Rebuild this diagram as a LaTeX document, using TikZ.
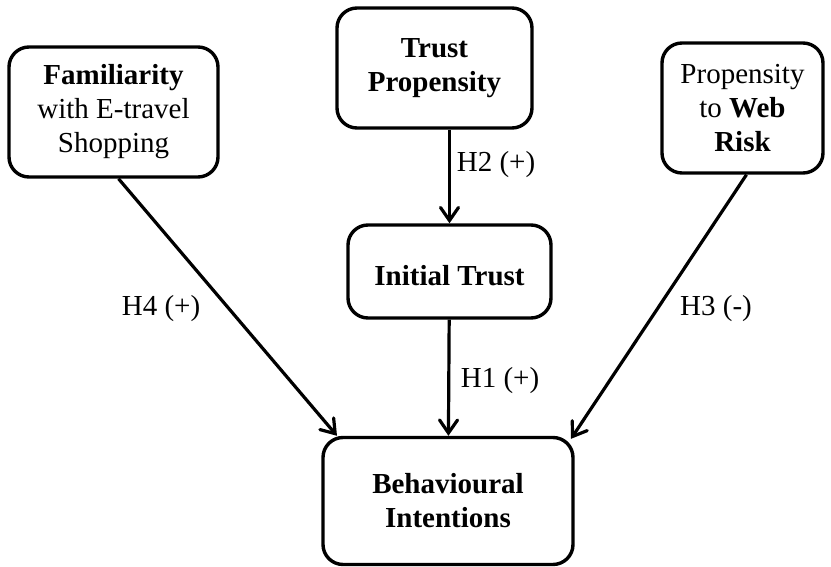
\documentclass[tikz,border=0pt]{standalone}
\usepackage{fontspec}
\setmainfont{Liberation Serif}
\usepackage{tikz}
\usetikzlibrary{arrows.meta, positioning, calc}
\tikzset{
    construct/.style={rectangle, draw, line width=3.4pt, rounded corners=20pt, align=center, font=\fontsize{29}{34}\selectfont, inner sep=2pt, execute at begin node={\rule{0pt}{29pt}}},
    line/.style={draw, line width=3.2pt, -{Straight Barb[length=13pt, width=18pt, line cap=round]}},
    hyp/.style={anchor=base, font=\fontsize{29}{34}\selectfont, inner sep=0pt}
}

\begin{document}
\begin{tikzpicture}[x=1pt, y=-1pt]
    \useasboundingbox (0,0) rectangle (831,567);

    % Constructs of the model
    \node (fam) [construct, minimum width=209pt, minimum height=130pt] at (113.5,112) {\textbf{Familiarity}\\with E-travel\\Shopping};
    \node (tp) [construct, minimum width=195pt, minimum height=120pt] at (434.5,68) {\textbf{Trust}\\\textbf{Propensity}};
    \node (it) [construct, minimum width=203pt, minimum height=93pt] at (449.5,271.5) {\textbf{Initial Trust}};
    \node (web) [construct, minimum width=161pt, minimum height=130pt] at (742.5,108) {Propensity\\to \textbf{Web}\\\textbf{Risk}};
    \node (bi) [construct, minimum width=250pt, minimum height=127pt] at (448,501) {\textbf{Behavioural}\\\textbf{Intentions}};

    % Hypotheses
    \draw[line] (tp.south -| it.north) -- (it.north);
    \draw[line] (it) -- (bi);
    \draw[line] ([xshift=5pt]fam.south) -- ([xshift=-111pt]bi.north);
    \draw[line] ([xshift=4pt]web.south) -- ([xshift=123pt, yshift=-3pt]bi.north);

    \node (h2) [hyp] at (496,172) {H2 (+)};
    \node (h1) [hyp] at (500,387) {H1 (+)};
    \node (h4) [hyp] at (161,316) {H4 (+)};
    \node (h3) [hyp] at (716,315) {H3 (-)};
\end{tikzpicture}
\end{document}
